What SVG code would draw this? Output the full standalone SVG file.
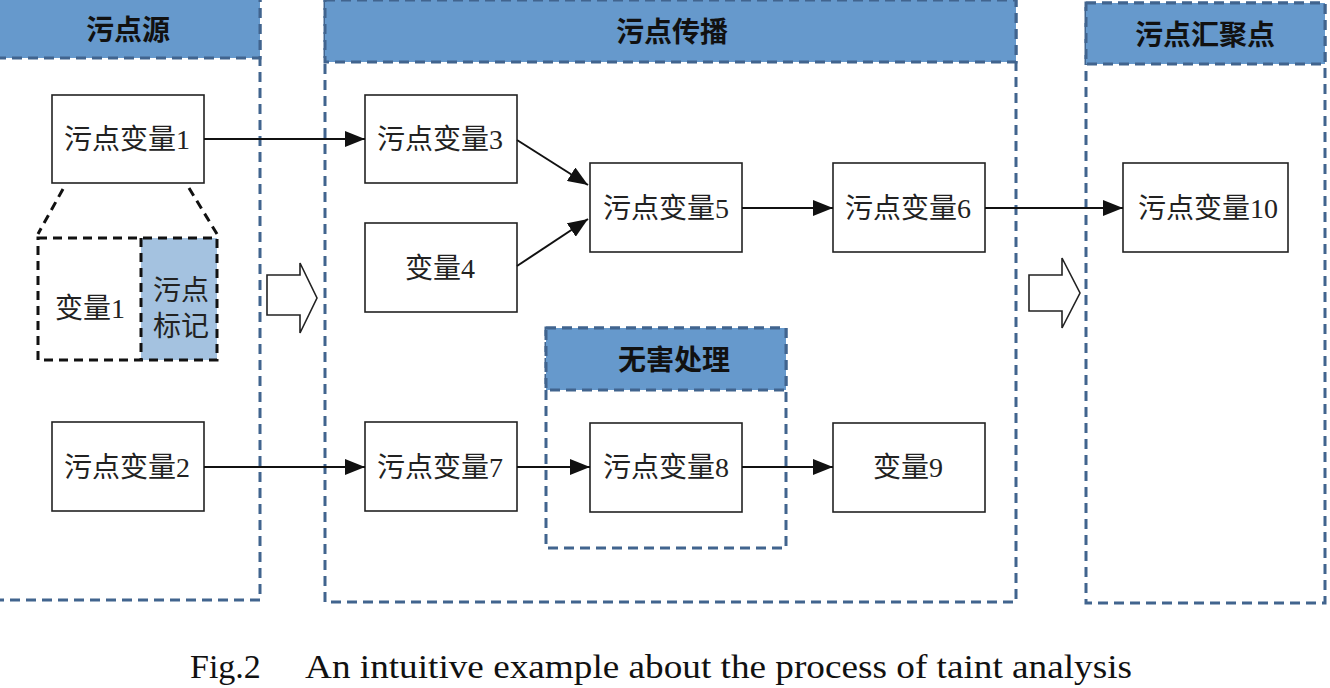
<svg xmlns="http://www.w3.org/2000/svg" width="1330" height="688" viewBox="0 0 1330 688">
<defs>
<style>
.panel{fill:#fff;stroke:#41648E;stroke-width:3;stroke-dasharray:10 6}
.head{fill:#6699CC;stroke:#41648E;stroke-width:3;stroke-dasharray:10 6}
.htxt{font-family:"Noto Sans CJK SC","Noto Sans",sans-serif;font-weight:bold;font-size:28px;fill:#111;text-anchor:middle;dominant-baseline:central}
.node{fill:#fff;stroke:#222;stroke-width:1.6}
.ntxt{font-family:"Liberation Serif","Noto Sans CJK SC",serif;font-size:28px;fill:#222;text-anchor:middle;dominant-baseline:central}
.conn{stroke:#111;stroke-width:2;fill:none;marker-end:url(#ah2)}
.blk{fill:none;stroke:#111;stroke-width:3;stroke-dasharray:9 6}
.hollow{fill:#fff;stroke:#222;stroke-width:1.6}
.cap{font-family:"Liberation Serif",serif;font-size:34px;fill:#111}
</style>
<marker id="ah2" markerWidth="20" markerHeight="16" refX="20" refY="8" orient="auto" markerUnits="userSpaceOnUse">
<path d="M0,0 L20,8 L0,16 Z" fill="#111"/>
</marker>
</defs>
<rect width="1330" height="688" fill="#fff"/>

<g id="panel-source">
<rect class="panel" x="-10" y="-10" width="270" height="610"/>
<rect class="head" x="-10" y="-10" width="270" height="68"/>
<text class="htxt" x="128" y="28">污点源</text>
</g>
<g id="panel-propagation">
<rect class="panel" x="325" y="0" width="691" height="602"/>
<rect class="head" x="325" y="0" width="691" height="62"/>
<text class="htxt" x="672" y="30">污点传播</text>
</g>
<g id="panel-sink">
<rect class="panel" x="1086" y="3" width="239" height="600"/>
<rect class="head" x="1086" y="3" width="239" height="61"/>
<text class="htxt" x="1205" y="33">污点汇聚点</text>
</g>
<g id="panel-sanitize">
<rect class="panel" x="546" y="328" width="240" height="220"/>
<rect class="head" x="546" y="328" width="240" height="62"/>
<text class="htxt" x="674" y="358">无害处理</text>
</g>

<g id="n1"><rect class="node" x="52" y="95" width="152" height="88"/><text class="ntxt" x="127" y="139">污点变量1</text></g>
<g id="tag-detail">
<line class="blk" x1="63" y1="189" x2="38" y2="234"/>
<line class="blk" x1="189" y1="188" x2="217" y2="234"/>
<rect x="141" y="238" width="76" height="122" fill="#A4C2E0"/>
<rect class="blk" x="38" y="238" width="179" height="122"/>
<line class="blk" x1="141" y1="238" x2="141" y2="360"/>
<text class="ntxt" x="90" y="308">变量1</text>
<text class="ntxt" x="181" y="290">污点</text>
<text class="ntxt" x="181" y="326">标记</text>
</g>
<g id="n2"><rect class="node" x="52" y="422" width="152" height="89"/><text class="ntxt" x="127" y="467">污点变量2</text></g>
<g id="n3"><rect class="node" x="365" y="95" width="152" height="88"/><text class="ntxt" x="440" y="139">污点变量3</text></g>
<g id="n4"><rect class="node" x="365" y="223" width="152" height="89"/><text class="ntxt" x="440" y="268">变量4</text></g>
<g id="n5"><rect class="node" x="590" y="163" width="152" height="89"/><text class="ntxt" x="666" y="208">污点变量5</text></g>
<g id="n6"><rect class="node" x="833" y="163" width="152" height="89"/><text class="ntxt" x="908" y="208">污点变量6</text></g>
<g id="n7"><rect class="node" x="365" y="422" width="152" height="89"/><text class="ntxt" x="440" y="467">污点变量7</text></g>
<g id="n8"><rect class="node" x="590" y="423" width="152" height="89"/><text class="ntxt" x="666" y="467">污点变量8</text></g>
<g id="n9"><rect class="node" x="833" y="423" width="152" height="89"/><text class="ntxt" x="908" y="467">变量9</text></g>
<g id="n10"><rect class="node" x="1123" y="163" width="165" height="89"/><text class="ntxt" x="1208" y="208">污点变量10</text></g>

<g id="stage-arrows">
<path class="hollow" d="M267,275 H300 V263 L317,298 L300,333 V315 H267 Z"/>
<path class="hollow" d="M1029,275 H1062 V258 L1080,293 L1062,328 V311 H1029 Z"/>
</g>

<g id="connectors">
<line class="conn" x1="204" y1="139" x2="365" y2="139"/>
<line class="conn" x1="517" y1="140" x2="588" y2="185"/>
<line class="conn" x1="517" y1="266" x2="588" y2="219"/>
<line class="conn" x1="742" y1="208" x2="833" y2="208"/>
<line class="conn" x1="985" y1="208" x2="1123" y2="208"/>
<line class="conn" x1="204" y1="467" x2="365" y2="467"/>
<line class="conn" x1="517" y1="467" x2="590" y2="467"/>
<line class="conn" x1="742" y1="467" x2="833" y2="467"/>
</g>

<text class="cap" x="190" y="678">Fig.2</text>
<text class="cap" x="305" y="678" textLength="827" lengthAdjust="spacingAndGlyphs">An intuitive example about the process of taint analysis</text>
</svg>
